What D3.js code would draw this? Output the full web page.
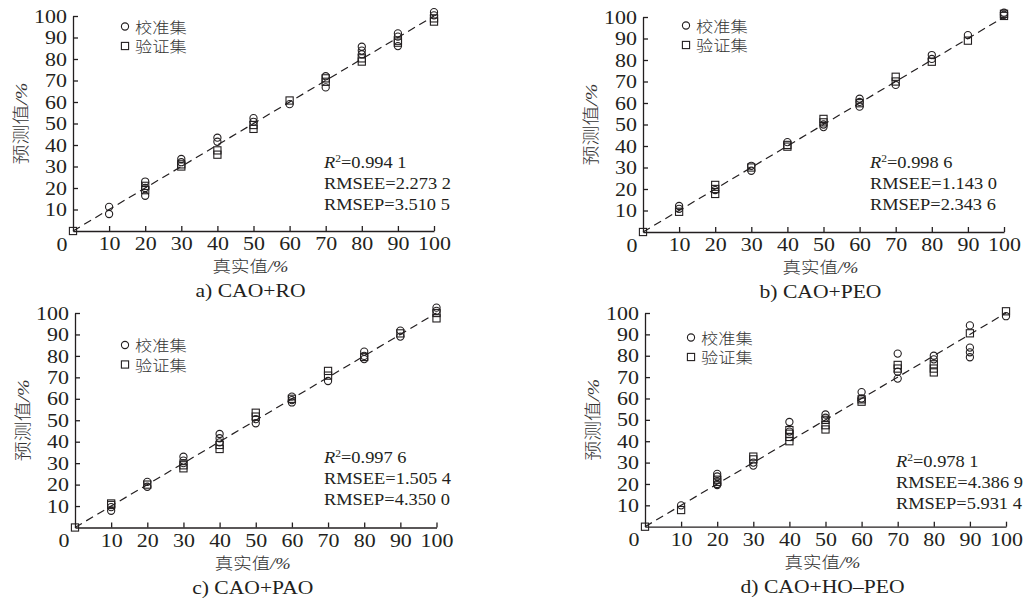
<!DOCTYPE html>
<html>
<head>
<meta charset="utf-8">
<script src="https://cdn.jsdelivr.net/npm/d3@7"></script>
<style>
  body { margin: 0; background: #fff; }
  text { fill: #231f20; }
</style>
</head>
<body>
<div class="diagram"></div>
<script>
// tick values shared by both axes
const ticks = [10, 20, 30, 40, 50, 60, 70, 80, 90, 100];
const legendLabels = ["校准集", "验证集"];

// a) CAO+RO  [true, predicted]
const calA = [[10,11.2],[10,7.9],[20,23],[20,20],[20,16.4],[30,33.5],[30,32],[40,43.4],[40,41.5],
  [50,52.5],[50,50.8],[60,59],[70,72],[70,66.8],[80,85.7],[80,83.9],[80,82.2],[90,91.9],[90,90.4],
  [90,86],[100,101.8],[100,100.3]];
const valA = [[0,0],[20,19],[20,21],[30,30],[30,31],[40,37.5],[40,35.5],[50,49.3],[50,47.5],[60,60.7],
  [70,71],[70,69.4],[80,80.3],[80,78.8],[90,87.6],[90,88.5],[100,98.9],[100,97.4]];
const statsA = ["0.994 1", "2.273 2", "3.510 5"];

// b) CAO+PEO
const calB = [[10,12.1],[10,10.8],[20,19.5],[30,30.8],[30,28.5],[40,41.8],[50,48.8],[50,50],[60,62],
  [60,60.5],[60,58.3],[70,68.4],[80,82.3],[80,80.5],[90,91.6],[100,102],[100,101]];
const valB = [[0,0],[10,9.4],[20,21.9],[20,20],[20,17.7],[30,30],[40,39.7],[40,40.5],[50,52.6],[50,51],
  [60,59.9],[70,72.2],[70,70],[80,79.2],[90,89],[100,100.5],[100,101.5]];
const statsB = ["0.998 6", "1.143 0", "2.343 6"];

// c) CAO+PAO
const calC = [[10,7.8],[10,9.5],[20,21.3],[20,19],[30,33],[30,31.2],[30,30],[40,43.6],[40,41.6],[40,39.7],
  [50,48.6],[50,50.5],[60,61],[60,59.4],[60,58.3],[70,68.3],[80,82],[80,80],[80,78.5],[90,91.8],[90,89],
  [100,102.5],[100,101]];
const valC = [[0,0],[10,11.2],[10,10.5],[20,20],[30,27.6],[30,29],[40,38.5],[40,36.6],[50,53.5],[50,51.7],
  [60,60],[70,73],[70,70.8],[80,79.5],[90,90.5],[100,100],[100,97.5]];
const statsC = ["0.997 6", "1.505 4", "4.350 0"];

// d) CAO+HO-PEO
const calD = [[10,10],[20,24.7],[20,23.5],[20,20],[20,19.5],[30,30],[30,28.6],[40,49],[40,44.5],
  [50,52.5],[50,51],[60,63],[60,60],[70,81],[70,72.5],[70,69.3],[80,80],[80,78.3],
  [90,94.2],[90,83.8],[90,81.6],[90,79.3],[100,98.5]];
const valD = [[0,0],[10,7.8],[20,22],[20,21],[30,32.8],[30,31.5],[40,45.2],[40,43.5],[40,42],[40,40],
  [50,50],[50,47.5],[50,45.5],[60,59.6],[60,58.5],[70,75.7],[70,74],[80,76],[80,74],[80,72.2],
  [90,90.5],[100,100.8]];
const statsD = ["0.978 1", "4.386 9", "5.931 4"];

const serif = "'Liberation Serif', 'Times New Roman', serif";
const cjk = "'Liberation Serif', 'Noto Sans CJK SC', serif";

const panels = [
  {ox: 73,  oy: 231,   x1: 434,  y1: 16,  leg: [125, 26.5], st: [324, 168], cap: "a) CAO+RO",    cal: calA, val: valA, stats: statsA},
  {ox: 643, oy: 232,   x1: 1004, y1: 17,  leg: [686, 25.5], st: [870, 168], cap: "b) CAO+PEO",   cal: calB, val: valB, stats: statsB},
  {ox: 75,  oy: 527.5, x1: 436.5,y1: 313, leg: [125, 345],  st: [324, 463], cap: "c) CAO+PAO",   cal: calC, val: valC, stats: statsC},
  {ox: 645, oy: 526.7, x1: 1006, y1: 313, leg: [691, 337.5],st: [896, 466.5], cap: "d) CAO+HO\u2013PEO", cal: calD, val: valD, stats: statsD}
];

const svg = d3.select(".diagram")
  .append("svg")
    .attr("width", 1030)
    .attr("height", 602);

// text with a horizontal stretch, like the original typesetting
function stext(g, x, y, size, sx, anchor) {
  return g.append("text")
    .attr("transform", `translate(${x},${y}) scale(${sx},1)`)
    .attr("text-anchor", anchor || "start")
    .style("font-family", serif)
    .style("font-size", size + "px");
}

function drawPanel(p) {
  const g = svg.append("g");

  const x = d3.scaleLinear().domain([0, 100]).range([p.ox, p.x1]);
  const y = d3.scaleLinear().domain([0, 100]).range([p.oy, p.y1]);

  // axes, ticks pointing inward
  const xAxis = g.append("g")
    .attr("transform", `translate(0,${p.oy})`)
    .call(d3.axisBottom(x).tickValues(ticks).tickSize(-5).tickSizeOuter(0));
  xAxis.selectAll("text")
    .attr("y", 19.5).attr("dy", 0)
    .attr("transform", "scale(1.22,1)")
    .style("font-family", serif).style("font-size", "18px");

  const yAxis = g.append("g")
    .attr("transform", `translate(${p.ox},0)`)
    .call(d3.axisLeft(y).tickValues(ticks).tickSize(-5).tickSizeOuter(0));
  yAxis.selectAll("text")
    .attr("x", -5).attr("dy", "0.34em")
    .attr("transform", "scale(1.22,1)")
    .style("font-family", serif).style("font-size", "18px");

  g.selectAll(".domain, .tick line")
    .attr("stroke", "#231f20").attr("stroke-width", 1.3);

  stext(g, p.ox - 11, p.oy + 19.5, 18, 1.22, "middle").text("0");

  // 1:1 reference line
  g.append("path")
    .datum([[0, 0], [100, 100]])
    .attr("fill", "none")
    .attr("stroke", "#231f20")
    .attr("stroke-width", 1.2)
    .attr("stroke-dasharray", "8,5")
    .attr("d", d3.line().x(d => x(d[0])).y(d => y(d[1])));

  // calibration set: circles
  g.append("g").selectAll("circle")
    .data(p.cal)
    .join("circle")
      .attr("cx", d => x(d[0]))
      .attr("cy", d => y(d[1]))
      .attr("r", 3.6)
      .attr("fill", "none")
      .attr("stroke", "#231f20")
      .attr("stroke-width", 1.1);

  // validation set: squares
  g.append("g").selectAll("rect")
    .data(p.val)
    .join("rect")
      .attr("x", d => x(d[0]) - 3.6)
      .attr("y", d => y(d[1]) - 3.6)
      .attr("width", 7.2)
      .attr("height", 7.2)
      .attr("fill", "none")
      .attr("stroke", "#231f20")
      .attr("stroke-width", 1.1);

  // legend
  const [lx, ly] = p.leg;
  g.append("circle").attr("cx", lx).attr("cy", ly).attr("r", 3.6)
    .attr("fill", "none").attr("stroke", "#231f20").attr("stroke-width", 1.1);
  g.append("rect").attr("x", lx - 3.6).attr("y", ly + 19.5 - 3.6).attr("width", 7.2).attr("height", 7.2)
    .attr("fill", "none").attr("stroke", "#231f20").attr("stroke-width", 1.1);
  legendLabels.forEach((t, i) => {
    stext(g, lx + 10, ly + 6 + i * 19.5, 15, 1.15)
      .style("font-family", cjk).style("font-weight", 300).style("fill", "#333").text(t);
  });

  // statistics
  const [sx0, sy0] = p.st;
  const r2 = stext(g, sx0, sy0, 16, 1.15);
  r2.append("tspan").style("font-style", "italic").text("R");
  r2.append("tspan").attr("dy", -6).style("font-size", "10px").text("2");
  r2.append("tspan").attr("dy", 6).text("=" + p.stats[0]);
  stext(g, sx0, sy0 + 21, 16, 1.15).text("RMSEE=" + p.stats[1]);
  stext(g, sx0, sy0 + 42, 16, 1.15).text("RMSEP=" + p.stats[2]);

  // axis titles
  const xc = (p.ox + p.x1) / 2 - 3;
  const xt = stext(g, xc, p.oy + 41, 16.5, 1.12, "middle")
    .style("font-family", cjk).style("font-weight", 300).style("fill", "#333");
  xt.append("tspan").text("真实值");
  xt.append("tspan").style("font-style", "italic").text("/%");

  const yc = (p.oy + p.y1) / 2;
  const yt = g.append("text")
    .attr("transform", `translate(${p.ox - 46},${yc}) rotate(-90) scale(1.17,1)`)
    .attr("text-anchor", "middle")
    .style("font-family", cjk)
    .style("font-weight", 300)
    .style("fill", "#333")
    .style("font-size", "17px");
  yt.append("tspan").text("预测值");
  yt.append("tspan").style("font-style", "italic").text("/%");

  // caption
  stext(g, xc, p.oy + 66, 18, 1.2, "middle").text(p.cap);
}

panels.forEach(drawPanel);
</script>
</body>
</html>
